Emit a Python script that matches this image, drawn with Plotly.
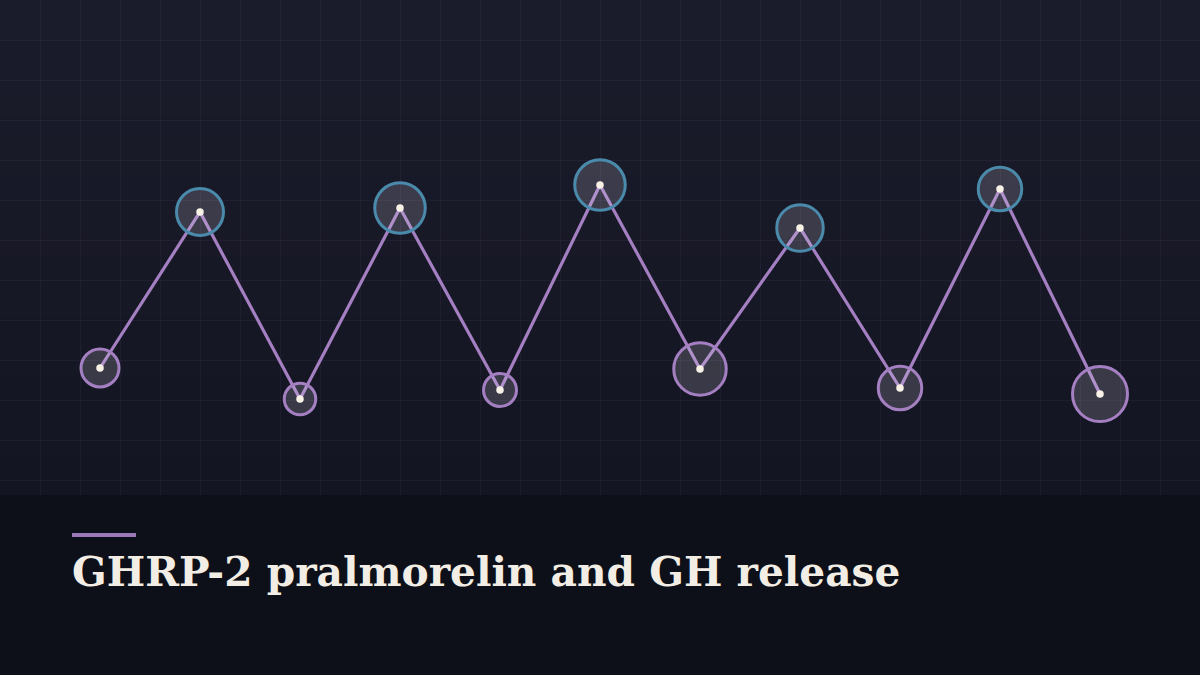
import plotly.graph_objects as go

# === DATA ===
timepoints = [0, 1, 2, 3, 4, 5, 6, 7, 8, 9, 10]
gh_level = [30.7, 46.3, 27.6, 46.7, 28.5, 49.0, 30.6, 44.7, 28.7, 48.6, 28.1]
pulse_size = [38.0, 47.0, 31.5, 50.5, 33.0, 50.5, 52.5, 46.5, 43.5, 43.5, 55.0]
phase = ['trough', 'peak', 'trough', 'peak', 'trough', 'peak',
         'trough', 'peak', 'trough', 'peak', 'trough']
title_text = 'GHRP-2 pralmorelin and GH release'

# === STYLE ===
W, H = 1200, 675
bg_top = (27, 28, 43)
bg_bottom = (20, 21, 34)
band_color = 'rgba(13,16,23,0.94)'
grid_color = 'rgba(150,130,200,0.07)'
line_purple = '#a47fc2'
ring_purple = '#a47fc2'
peak_blue = '#4a8aab'
dot_color = '#f8f2e6'
text_color = '#f3eee5'
band_top = 495

ring_colors = [peak_blue if p == 'peak' else ring_purple for p in phase]

fig = go.Figure()

# connecting line
fig.add_trace(go.Scatter(
    x=timepoints, y=gh_level, mode='lines',
    line=dict(color=line_purple, width=3.2),
    hoverinfo='skip', showlegend=False
))

# pulse rings (opacity forced to 1: bubble traces default to 0.7)
fig.add_trace(go.Scatter(
    x=timepoints, y=gh_level, mode='markers',
    marker=dict(size=pulse_size, sizemode='diameter', sizeref=1, opacity=1,
                color='rgba(240,232,250,0.17)',
                line=dict(color=ring_colors, width=3)),
    hoverinfo='skip', showlegend=False
))

# centre dots
fig.add_trace(go.Scatter(
    x=timepoints, y=gh_level, mode='markers',
    marker=dict(size=7.5, color=dot_color, line=dict(width=0)),
    hoverinfo='skip', showlegend=False
))

# background gradient for the chart area (stacked strips)
shapes = []
n_strips = 25
for i in range(n_strips):
    t = i / (n_strips - 1)
    c = tuple(round(a + (b - a) * t) for a, b in zip(bg_top, bg_bottom))
    y0 = 1 - (i + 1) * (band_top / H) / n_strips
    y1 = 1 - i * (band_top / H) / n_strips
    shapes.append(dict(type='rect', xref='paper', yref='paper',
                       x0=0, x1=1, y0=y0, y1=y1 + 0.002,
                       fillcolor='rgb(%d,%d,%d)' % c, line=dict(width=0),
                       layer='below'))

# bottom title band
shapes.append(dict(type='rect', xref='paper', yref='paper',
                   x0=0, x1=1, y0=0, y1=1 - band_top / H,
                   fillcolor=band_color, line=dict(width=0), layer='above'))
# accent bar
shapes.append(dict(type='rect', xref='paper', yref='paper',
                   x0=72 / W, x1=136 / W, y0=1 - 537 / H, y1=1 - 533 / H,
                   fillcolor='#9b78b8', line=dict(width=0), layer='above'))

fig.update_layout(
    width=W, height=H,
    margin=dict(l=0, r=0, t=0, b=0),
    paper_bgcolor='#151624',
    plot_bgcolor='rgba(0,0,0,0)',
    shapes=shapes,
    xaxis=dict(range=[-1, 11], showgrid=True, gridcolor=grid_color, gridwidth=1,
               tick0=-1, dtick=0.4, showticklabels=False, zeroline=False,
               showline=False, fixedrange=True),
    yaxis=dict(range=[0, 67.5], showgrid=True, gridcolor=grid_color, gridwidth=1,
               tick0=3.5, dtick=4, showticklabels=False, zeroline=False,
               showline=False, fixedrange=True),
    annotations=[dict(
        text='<b>%s</b>' % title_text,
        xref='paper', yref='paper', x=70 / W, y=1 - 598 / H,
        xanchor='left', yanchor='bottom', showarrow=False,
        font=dict(family='DejaVu Serif', size=40.7, color=text_color)
    )]
)

fig.write_html('out.html', config={'displayModeBar': False},
               post_script="document.body.style.margin='0';"
                           "document.body.style.background='#0d1017';")
